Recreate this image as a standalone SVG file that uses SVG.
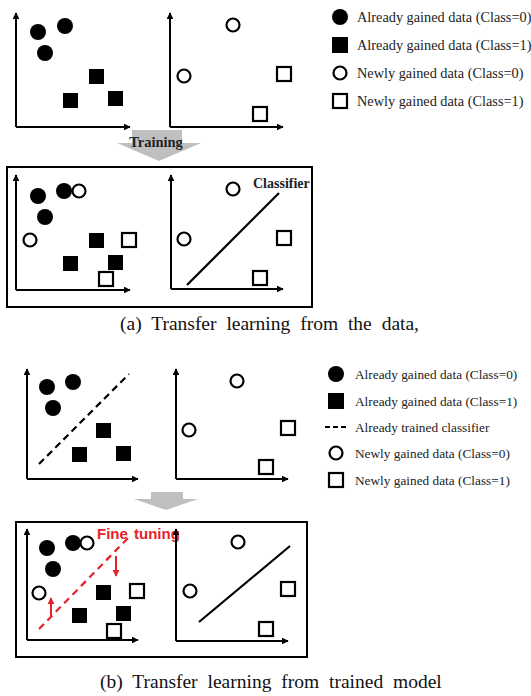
<svg xmlns="http://www.w3.org/2000/svg" width="531" height="696" viewBox="0 0 531 696">
<defs>
<marker id="ah" viewBox="0 0 10 10" refX="9" refY="5" markerWidth="3.4" markerHeight="3.4" orient="auto"><path d="M0,0 L10,5 L0,10 z" fill="#000"/></marker>
<marker id="rh" viewBox="0 0 10 10" refX="9" refY="5" markerWidth="3.6" markerHeight="3.6" orient="auto"><path d="M0,0 L10,5 L0,10 z" fill="#e62129"/></marker>
<style>
.ax{stroke:#000;stroke-width:2;fill:none;marker-end:url(#ah)}
.fc{fill:#000}
.oc{fill:#fff;stroke:#000;stroke-width:2.2}
.fs{fill:#000}
.os{fill:#fff;stroke:#000;stroke-width:2.2}
.box{fill:none;stroke:#000;stroke-width:2}
.lg{font-family:"Liberation Serif","Times New Roman",serif;fill:#222}
.cap{font-family:"Liberation Serif","Times New Roman",serif;font-size:19.5px;fill:#111}
.bt{font-family:"Liberation Serif","Times New Roman",serif;font-weight:bold;fill:#222}
.cl{stroke:#000;stroke-width:2.2;fill:none}
.dl{stroke:#000;stroke-width:2.2;fill:none;stroke-dasharray:7,4.5}
.rd{stroke:#e62129;stroke-width:2.2;fill:none;stroke-dasharray:7,5}
.ra{stroke:#e62129;stroke-width:2;fill:none;marker-end:url(#rh)}
.gr{fill:#bfbfbf}
</style>
</defs>

<!-- ===== Part (a) ===== -->
<g id="a-plot-old">
<path class="ax" d="M16,127 V13"/><path class="ax" d="M16,127 H130"/>
<circle class="fc" cx="38" cy="32" r="8"/>
<circle class="fc" cx="65" cy="26" r="8"/>
<circle class="fc" cx="45" cy="53" r="8"/>
<rect class="fs" x="89" y="69" width="15" height="15"/>
<rect class="fs" x="63" y="93" width="15" height="15"/>
<rect class="fs" x="108" y="91" width="15" height="15"/>
</g>
<g id="a-plot-new">
<path class="ax" d="M170,127 V13"/><path class="ax" d="M170,127 H283"/>
<circle class="oc" cx="233" cy="25" r="6.5"/>
<circle class="oc" cx="184" cy="76" r="6.5"/>
<rect class="os" x="277" y="67" width="14" height="14"/>
<rect class="os" x="253" y="107" width="14" height="14"/>
</g>
<g id="a-legend">
<circle class="fc" cx="340" cy="17" r="8"/>
<text class="lg" x="357" y="22" font-size="14.3">Already gained data (Class=0)</text>
<rect class="fs" x="332" y="37" width="16" height="16"/>
<text class="lg" x="357" y="50" font-size="14.3">Already gained data (Class=1)</text>
<circle class="oc" cx="340" cy="73" r="6.5"/>
<text class="lg" x="357" y="78" font-size="14.3">Newly gained data (Class=0)</text>
<rect class="os" x="333" y="94" width="14" height="14"/>
<text class="lg" x="357" y="106" font-size="14.3">Newly gained data (Class=1)</text>
</g>
<g id="a-training-arrow">
<rect class="gr" x="132" y="130" width="50" height="13"/>
<path class="gr" d="M117,143 H201 L159,161 z"/>
<text class="bt" x="156" y="147" font-size="14.5" text-anchor="middle">Training</text>
</g>
<g id="a-result">
<rect class="box" x="7" y="167" width="305" height="140"/>
<path class="ax" d="M16,290 V175"/><path class="ax" d="M16,290 H130"/>
<circle class="fc" cx="38" cy="196" r="8"/>
<circle class="fc" cx="64" cy="191" r="8"/>
<circle class="oc" cx="79" cy="191" r="6.5"/>
<circle class="fc" cx="45" cy="217" r="8"/>
<circle class="oc" cx="30" cy="240" r="6.5"/>
<rect class="fs" x="89" y="233" width="15" height="15"/>
<rect class="os" x="122" y="233" width="14" height="14"/>
<rect class="fs" x="63" y="256" width="15" height="15"/>
<rect class="fs" x="108" y="255" width="15" height="15"/>
<rect class="os" x="99" y="272" width="14" height="14"/>
<path class="ax" d="M171,289 V175"/><path class="ax" d="M171,289 H283"/>
<circle class="oc" cx="233" cy="189" r="6.5"/>
<circle class="oc" cx="184" cy="239" r="6.5"/>
<rect class="os" x="277" y="231" width="14" height="14"/>
<rect class="os" x="253" y="271" width="14" height="14"/>
<path class="cl" d="M187,285 L279,193"/>
<text class="bt" x="253" y="188" font-size="14">Classifier</text>
</g>
<text id="cap-a" class="cap" x="120" y="330" word-spacing="5">(a) Transfer learning from the data,</text>

<!-- ===== Part (b) ===== -->
<g id="b-plot-old">
<path class="ax" d="M27,479 V369"/><path class="ax" d="M27,479 H138"/>
<circle class="fc" cx="47" cy="387" r="8"/>
<circle class="fc" cx="73" cy="382" r="8"/>
<circle class="fc" cx="53" cy="408" r="8"/>
<rect class="fs" x="96" y="423" width="15" height="15"/>
<rect class="fs" x="72" y="447" width="15" height="15"/>
<rect class="fs" x="116" y="446" width="15" height="15"/>
<path class="dl" d="M39,464 L129,374"/>
</g>
<g id="b-plot-new">
<path class="ax" d="M176,479 V369"/><path class="ax" d="M176,479 H288"/>
<circle class="oc" cx="237" cy="381" r="6.5"/>
<circle class="oc" cx="189" cy="430" r="6.5"/>
<rect class="os" x="281" y="421" width="14" height="14"/>
<rect class="os" x="259" y="460" width="14" height="14"/>
</g>
<g id="b-legend">
<circle class="fc" cx="336" cy="374" r="8"/>
<text class="lg" x="355" y="379" font-size="13.3">Already gained data (Class=0)</text>
<rect class="fs" x="328" y="393" width="16" height="16"/>
<text class="lg" x="355" y="406" font-size="13.3">Already gained data (Class=1)</text>
<path d="M325,427 H347" stroke="#000" stroke-width="2" stroke-dasharray="5,3"/>
<text class="lg" x="355" y="432" font-size="13.3">Already trained classifier</text>
<circle class="oc" cx="336" cy="453" r="6.5"/>
<text class="lg" x="355" y="458" font-size="13.3">Newly gained data (Class=0)</text>
<rect class="os" x="329" y="473" width="14" height="14"/>
<text class="lg" x="355" y="485" font-size="13.3">Newly gained data (Class=1)</text>
</g>
<g id="b-arrow">
<rect class="gr" x="151" y="492" width="32" height="8"/>
<path class="gr" d="M134,499 H198 L166,510 z"/>
</g>
<g id="b-result">
<rect class="box" x="16" y="522" width="291" height="135"/>
<path class="ax" d="M27,640 V529"/><path class="ax" d="M27,640 H138"/>
<circle class="fc" cx="47" cy="548" r="8"/>
<circle class="fc" cx="73" cy="543" r="8"/>
<circle class="oc" cx="87" cy="543" r="6.5"/>
<circle class="fc" cx="53" cy="569" r="8"/>
<circle class="oc" cx="39" cy="593" r="6.5"/>
<rect class="fs" x="96" y="585" width="15" height="15"/>
<rect class="os" x="130" y="584" width="14" height="14"/>
<rect class="fs" x="72" y="608" width="15" height="15"/>
<rect class="fs" x="116" y="606" width="15" height="15"/>
<rect class="os" x="107" y="624" width="14" height="14"/>
<path class="rd" d="M39,629 L131,535"/>
<path class="ra" d="M116,556 V576"/>
<path class="ra" d="M51,617 V598"/>
<text x="97" y="539" font-family="'Liberation Sans',Arial,sans-serif" font-weight="bold" font-size="15" word-spacing="2" fill="#e62129">Fine tuning</text>
<path class="ax" d="M176,641 V529"/><path class="ax" d="M176,641 H288"/>
<circle class="oc" cx="238" cy="542" r="6.5"/>
<circle class="oc" cx="190" cy="591" r="6.5"/>
<rect class="os" x="281" y="582" width="14" height="14"/>
<rect class="os" x="259" y="622" width="14" height="14"/>
<path class="cl" d="M199,622 L290,546"/>
</g>
<text id="cap-b" class="cap" x="100" y="688" word-spacing="5">(b) Transfer learning from trained model</text>
</svg>
